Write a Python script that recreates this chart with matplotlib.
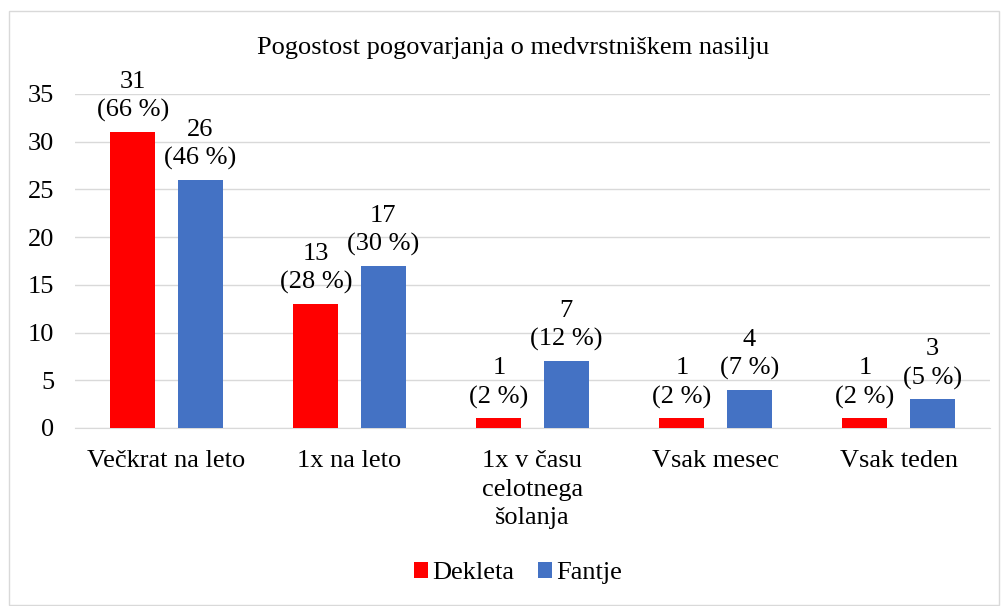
import numpy as np
import matplotlib.pyplot as plt
from matplotlib.patches import Rectangle

categories = ["Večkrat na leto", "1x na leto", "1x v času\ncelotnega\nšolanja", "Vsak mesec", "Vsak teden"]
dekleta = [31, 13, 1, 1, 1]
fantje = [26, 17, 7, 4, 3]
dekleta_pct = [66, 28, 2, 2, 2]
fantje_pct = [46, 30, 12, 7, 5]

plt.rcParams['font.family'] = ['Liberation Serif', 'DejaVu Serif']
fs = 19

fig = plt.figure(figsize=(10.04, 6.06), dpi=100)
ax = fig.add_axes([75 / 1004, 1 - 428 / 606, 915 / 1004, 334 / 606])

x = np.arange(len(categories))
w = 0.246
off = 0.184
red = '#FF0000'
blue = '#4472C4'
b1 = ax.bar(x - off, dekleta, w, color=red, label='Dekleta', zorder=3)
b2 = ax.bar(x + off, fantje, w, color=blue, label='Fantje', zorder=3)

for xs, vals, pcts in [(x - off, dekleta, dekleta_pct), (x + off, fantje, fantje_pct)]:
    for xi, v, p in zip(xs, vals, pcts):
        ax.annotate(f"{v}\n({p} %)", (xi, v), xytext=(0, 7), textcoords='offset points',
                    ha='center', va='bottom', fontsize=fs, linespacing=1.35)

ax.set_xlim(-0.5, len(categories) - 0.5)
ax.set_ylim(0, 35)
ax.set_yticks(range(0, 36, 5))
ax.set_xticks(x)
ax.set_xticklabels(categories, fontsize=fs, linespacing=1.38)
ax.tick_params(axis='y', labelsize=fs, length=0, pad=15)
ax.tick_params(axis='x', length=0, pad=16)
ax.grid(axis='y', color='#D9D9D9', linewidth=1, zorder=0)
for s in ['top', 'right', 'left']:
    ax.spines[s].set_visible(False)
ax.spines['bottom'].set_color('#D9D9D9')

fig.text(513 / 1004, 1 - 48 / 606, "Pogostost pogovarjanja o medvrstniškem nasilju",
         ha='center', va='center', fontsize=fs)

fig.legend(handles=[b1, b2], loc='center', bbox_to_anchor=(518 / 1004, 1 - 573 / 606),
           ncol=2, frameon=False, fontsize=fs, handlelength=0.55, handleheight=0.55,
           handletextpad=0.15, columnspacing=0.9)

fig.patches.append(Rectangle((9 / 1004, 0.002), 990 / 1004, 1 - 11 / 606 - 0.002,
                             transform=fig.transFigure, fill=False, edgecolor='#D9D9D9', linewidth=1))

fig.savefig('out.png', dpi=100)
